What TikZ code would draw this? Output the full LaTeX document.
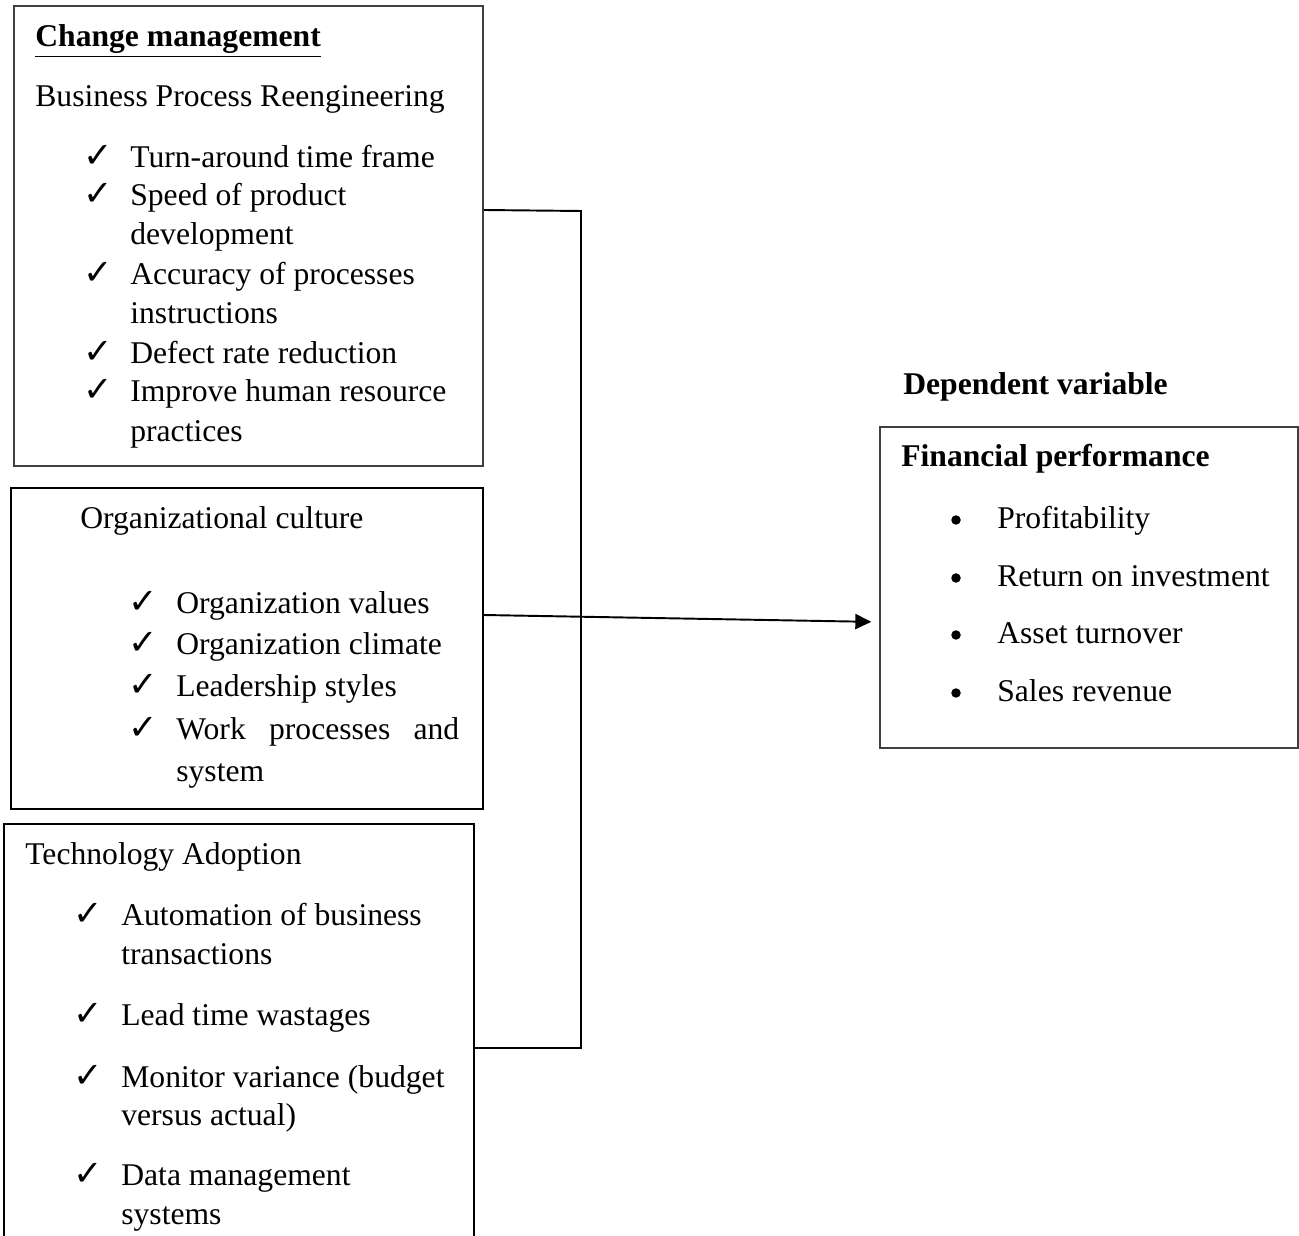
\documentclass[tikz,border=0pt]{standalone}
\usepackage{fontspec}
\setmainfont{Liberation Serif}
\newfontfamily\symfont{DejaVu Sans}
\usetikzlibrary{arrows.meta}

\begin{document}
\begin{tikzpicture}[x=0.02cm, y=-0.02cm, font=\fontsize{18}{22}\selectfont,
        txt/.style={anchor=base west, inner sep=0, yshift=-0.04cm},
        tick/.style={anchor=base west, inner sep=0, yshift=-0.04cm, font=\symfont\fontsize{20}{22}\selectfont},
        dot/.style={circle, fill, inner sep=0, minimum size=0.19cm},
        box/.style={draw, line width=0.8pt, inner sep=0},
        link/.style={line width=1.1pt}]
        \useasboundingbox (0,0) rectangle (1299,1236);

        % the four boxes
        \node[box, draw=black!75, minimum width=9.38cm, minimum height=9.2cm] (bpr) at (248.5,236) {};
        \node[box, minimum width=9.44cm, minimum height=6.42cm] (culture) at (247,648.5) {};
        \node[box, minimum width=9.4cm, minimum height=8.72cm] (tech) at (239,1042) {};
        \node[box, draw=black!75, minimum width=8.36cm, minimum height=6.42cm] (fin) at (1089,587.5) {};

        % change management
        \node[txt] (cmhead) at (35,45) {\underline{\textbf{Change management}}};
        \node[txt] (bprhead) at (35,105) {Business Process Reengineering};
        \node[tick] (c1) at (83,166) {✓};
        \node[txt] (t1) at (130,166) {Turn-around time frame};
        \node[tick] (c2) at (83,204) {✓};
        \node[txt] (t2) at (130,204) {Speed of product};
        \node[txt] (t2b) at (130,243) {development};
        \node[tick] (c3) at (83,283) {✓};
        \node[txt] (t3) at (130,283) {Accuracy of processes};
        \node[txt] (t3b) at (130,322) {instructions};
        \node[tick] (c4) at (83,362) {✓};
        \node[txt] (t4) at (130,362) {Defect rate reduction};
        \node[tick] (c5) at (83,400) {✓};
        \node[txt] (t5) at (130,400) {Improve human resource};
        \node[txt] (t5b) at (130,440) {practices};

        % organizational culture
        \node[txt] (ochead) at (80,527) {Organizational culture};
        \node[tick] (o1) at (128,612) {✓};
        \node[txt] (v1) at (176,612) {Organization values};
        \node[tick] (o2) at (128,653) {✓};
        \node[txt] (v2) at (176,653) {Organization climate};
        \node[tick] (o3) at (128,695) {✓};
        \node[txt] (v3) at (176,695) {Leadership styles};
        \node[tick] (o4) at (128,738) {✓};
        \node[txt] (v4) at (176,738) {\makebox[5.66cm][s]{Work processes and}};
        \node[txt] (v4b) at (176,780) {system};

        % technology adoption
        \node[txt] (tahead) at (25,862) {Technology Adoption};
        \node[tick] (a1) at (73,923) {✓};
        \node[txt] (w1) at (121,923) {Automation of business};
        \node[txt] (w1b) at (121,962) {transactions};
        \node[tick] (a2) at (73,1023) {✓};
        \node[txt] (w2) at (121,1023) {Lead time wastages};
        \node[tick] (a3) at (73,1085) {✓};
        \node[txt] (w3) at (121,1085) {Monitor variance (budget};
        \node[txt] (w3b) at (121,1123) {versus actual)};
        \node[tick] (a4) at (73,1183) {✓};
        \node[txt] (w4) at (121,1183) {Data management};
        \node[txt] (w4b) at (121,1222) {systems};

        % dependent variable
        \node[txt] (dvhead) at (903,393) {\textbf{Dependent variable}};
        \node[txt] (fphead) at (901,465) {\textbf{Financial performance}};
        \node[dot] (b1) at (956,520) {};
        \node[txt] (p1) at (997,527) {Profitability};
        \node[dot] (b2) at (956,578) {};
        \node[txt] (p2) at (997,585) {Return on investment};
        \node[dot] (b3) at (956,635) {};
        \node[txt] (p3) at (997,642) {Asset turnover};
        \node[dot] (b4) at (956,693) {};
        \node[txt] (p4) at (997,700) {Sales revenue};

        % connectors
        \coordinate (jtop) at (581,211);
        \coordinate (jbot) at (581,1048);
        \draw[link] (bpr.east |- 0,210) -- (jtop) -- (jbot) -- (tech.east |- jbot);
        \draw[link, -{Triangle[length=0.32cm, width=0.3cm]}, shorten >=0.16cm]
            (culture.east |- 0,615) -- (fin.west |- 0,622);
    \end{tikzpicture}
\end{document}
